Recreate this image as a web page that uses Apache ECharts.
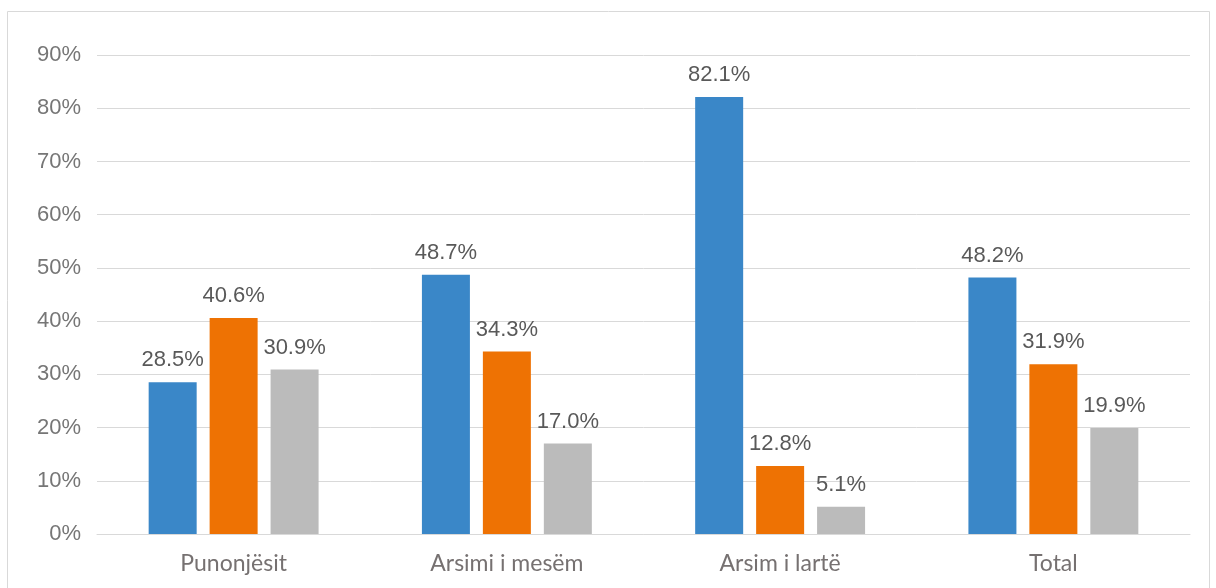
<!DOCTYPE html>
<html><head><meta charset="utf-8">
<script src="https://cdn.jsdelivr.net/npm/echarts@6/dist/echarts.min.js"></script>
<style>html,body{margin:0;padding:0;background:#fff}#c{width:1216px;height:588px}</style>
</head><body><div id="c"></div>
<script>
const categories = ["Punonjësit", "Arsimi i mesëm", "Arsim i lartë", "Total"];
const seriesA = [28.5, 48.7, 82.1, 48.2];
const seriesB = [40.6, 34.3, 12.8, 31.9];
const seriesC = [30.9, 17.0, 5.1, 19.9];
const colors = ["#3a87c8", "#ee7203", "#bbbbbb"];

const chart = echarts.init(document.getElementById('c'));
const mk = (name, data, color) => ({
  name, type: 'bar', data, barWidth: 48, barGap: '27%',
  itemStyle: { color },
  label: { show: true, position: 'top', distance: 11, formatter: p => p.value.toFixed(1) + '%',
    color: '#595959', fontSize: 22, fontFamily: 'Liberation Sans, Arial, sans-serif' }
});
chart.setOption({
  animation: false,
  graphic: [{ type: 'rect', shape: { x: 7.5, y: 11.5, width: 1202, height: 590 }, style: { fill: 'none', stroke: '#d9d9d9', lineWidth: 1 } }],
  grid: { left: 97, right: 26, top: 55, bottom: 54, containLabel: false },
  xAxis: { type: 'category', data: categories,
    axisLine: { lineStyle: { color: '#d9d9d9', width: 1 } }, axisTick: { show: false },
    axisLabel: { color: '#767171', fontSize: 23, margin: 18, fontFamily: 'Lato, Open Sans, sans-serif' } },
  yAxis: { type: 'value', min: 0, max: 90, interval: 10,
    axisLine: { show: false }, axisTick: { show: false },
    splitLine: { lineStyle: { color: '#d9d9d9', width: 1 } },
    axisLabel: { formatter: '{value}%', color: '#767676', fontSize: 22, margin: 16, fontFamily: 'Liberation Sans, Arial, sans-serif' } },
  series: [mk('A', seriesA, colors[0]), mk('B', seriesB, colors[1]), mk('C', seriesC, colors[2])]
});
</script></body></html>
